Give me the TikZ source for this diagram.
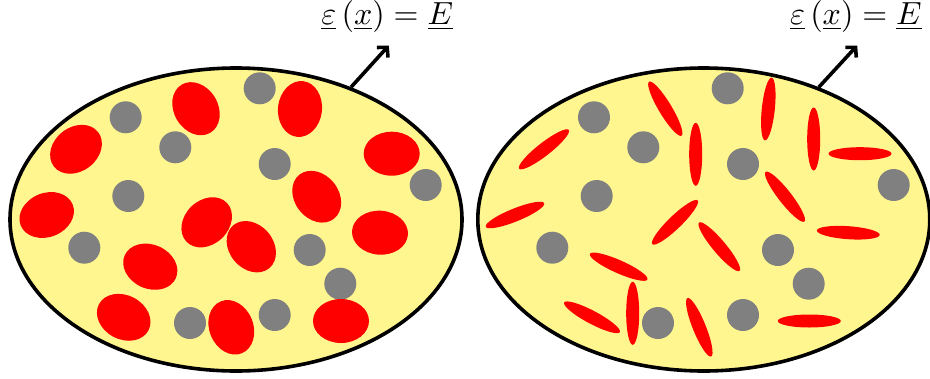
\documentclass[tikz,border=0pt]{standalone}
\usetikzlibrary{shapes.geometric,arrows.meta}
\definecolor{blobyellow}{RGB}{255,246,143}
\definecolor{grain}{RGB}{128,128,128}
\definecolor{incl}{RGB}{255,0,0}
\tikzset{
  body/.style={ellipse,draw=black,line width=3.6pt,fill=blobyellow,minimum width=452pt,minimum height=303pt,inner sep=0pt},
  grainc/.style={circle,fill=grain,minimum size=32pt,inner sep=0pt},
  blob/.style={ellipse,fill=incl,minimum width=56pt,minimum height=44pt,inner sep=0pt,rotate=#1},
  needle/.style={ellipse,fill=incl,minimum width=63pt,minimum height=13pt,inner sep=0pt,rotate=#1},
  lbl/.style={scale=3.2,inner sep=0pt},
  ptr/.style={line width=3.6pt,-{Straight Barb[length=7pt,width=15pt]}}
}
\begin{document}
\begin{tikzpicture}[x=1pt,y=-1pt]
\useasboundingbox (0,0) rectangle (930,378);
% left body
\node[body] (L) at (236,219.5) {};
\foreach \x/\y [count=\i] in {125.7/117.3,259.7/88.3,175.3/147.3,274.7/164,425.7/185,128.3/196,84.3/247.7,309.7/250,340.3/283.7,190/323,274.7/315}
  \node[grainc] (lg\i) at (\x,\y) {};
\foreach \x/\y/\r [count=\i] in {76/149.3/38,196/108.7/-59,300/109/84,391.7/153.7/0,46.7/215/22,316.7/196.7/-52,380/232.7/-4,206.7/222.3/44,251.3/246.7/-50,150.3/266.7/-24,123.7/317.3/-28,231.3/327.3/-68,341/321/0}
  \node[blob=\r] (lb\i) at (\x,\y) {};
% right body
\node[body] (R) at (703.8,219.5) {};
\foreach \x/\y [count=\i] in {594/117.3,727.7/88.3,643.3/147.3,743/164,893.7/185,596.7/196,552.3/247.7,778/250,808.7/283.7,658/323,743/315}
  \node[grainc] (rg\i) at (\x,\y) {};
\foreach \x/\y/\r [count=\i] in {544/149.3/38,665.3/108.7/-59,695.7/154.3/90,768.3/109/84,813.7/139/90,860/153.7/0,515/215/22,785/196.7/-52,848.3/232.7/-4,675/222.3/44,719.3/246.7/-50,618.7/266.7/-24,592/317.3/-28,632.7/313.3/90,699.3/327.3/-68,809.3/321/0}
  \node[needle=\r] (rn\i) at (\x,\y) {};
% labels and pointers
\node[lbl] (tl) at (387.2,16) {$\underline{\varepsilon}\left(\underline{x}\right)=\underline{E}$};
\node[lbl] (tr) at (855.8,16) {$\underline{\varepsilon}\left(\underline{x}\right)=\underline{E}$};
\coordinate (al) at (388.8,45.5);
\coordinate (ar) at (857.2,45.5);
\draw[ptr] (L.49) -- (al);
\draw[ptr] (R.49) -- (ar);
\end{tikzpicture}
\end{document}
